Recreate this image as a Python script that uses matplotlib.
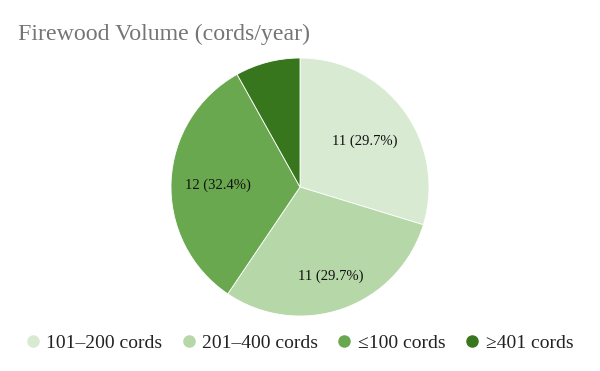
import numpy as np
import matplotlib.pyplot as plt
from matplotlib.lines import Line2D

# Dados
categorias = ["101–200 cords", "201–400 cords", "≤100 cords", "≥401 cords"]
valores = [11, 11, 12, 3]
cores = ["#d9ead3", "#b6d7a8", "#6aa84f", "#38761d"]
dist_rotulo = [0.62, 0.72, 0.64, 0.6]

plt.rcParams["font.family"] = ["Liberation Serif", "DejaVu Serif"]

total = sum(valores)


def rotulo(pct):
    v = round(pct * total / 100)
    if pct < 10:
        return ""
    return f"{v} ({pct:.1f}%)"


fig = plt.figure(figsize=(6, 3.71), dpi=100)
ax = fig.add_axes([171 / 600, 55 / 371, 258 / 600, 258 / 371])
fatias, _, textos = ax.pie(valores, colors=cores, startangle=90, counterclock=False,
                           autopct=rotulo, pctdistance=0.62,
                           wedgeprops=dict(edgecolor="white", linewidth=0.6),
                           textprops=dict(fontsize=10.5, color="#111111"))
# ajusta a distancia de cada rotulo
for w, t, d in zip(fatias, textos, dist_rotulo):
    ang = np.deg2rad((w.theta1 + w.theta2) / 2)
    t.set_position((d * np.cos(ang), d * np.sin(ang)))
    t.set_va("center_baseline")
ax.set_xlim(-1, 1)
ax.set_ylim(-1, 1)
ax.set_aspect("equal")

fig.text(18 / 600, 1 - 34 / 371, "Firewood Volume (cords/year)",
         fontsize=17.2, color="#757575", va="center", ha="left")

handles = [Line2D([], [], marker="o", linestyle="", markersize=8,
                  markerfacecolor=c, markeredgecolor=c) for c in cores]
fig.legend(handles, categorias, loc="center", bbox_to_anchor=(0.5, 1 - 343 / 371),
           ncol=4, frameon=False, fontsize=14, handletextpad=0.4,
           columnspacing=1.05, handlelength=0.6, labelcolor="#222222")

fig.savefig("out.png", dpi=100)
